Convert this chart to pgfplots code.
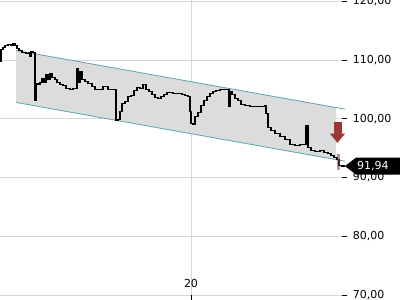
\documentclass[border=0pt]{standalone}
\usepackage{pgfplots}
\pgfplotsset{compat=1.18}
\usepackage{fontspec}
\setmainfont{DejaVu Sans}
\definecolor{chan}{RGB}{95,163,173}
\definecolor{chanfill}{RGB}{220,220,220}
\definecolor{arrowred}{RGB}{155,55,52}
\definecolor{gridc}{RGB}{215,215,215}
\begin{document}
\fontsize{11}{13}\selectfont
\begin{tikzpicture}[x=1pt,y=1pt]
\begin{axis}[
 at={(0pt,5pt)}, anchor=south west,
 scale only axis, width=342pt, height=295pt,
 xmin=0, xmax=342, ymin=70, ymax=120.21,
 axis line style={draw=none},
 clip=false,
 ytick={70,80,...,120},
 yticklabels={{70,00},{80,00},{90,00},{100,00},{110,00},{120,00}},
 xtick={191}, xticklabels={20},
 ytick pos=right, yticklabel pos=right,
 xtick pos=bottom,
 grid=major, grid style={gridc, line width=0.6pt},
 tick align=outside, major tick length=5pt,
 tick style={black, line width=0.6pt},
 yticklabel style={anchor=west, xshift=2pt, font=\fontsize{11}{13}\selectfont},
 xticklabel style={anchor=south, yshift=8pt, font=\fontsize{11}{13}\selectfont},
]
% channel fill
\addplot[fill=chanfill, draw=none] coordinates {(16,111.63) (336,101.90) (336,93.04) (16,102.77)} -- cycle;
% channel lines
\addplot[chan, line width=0.8pt] coordinates {(16,111.63) (345,101.63)};
\addplot[chan, line width=0.8pt] coordinates {(16,102.77) (345,92.77)};
% price
\addplot[black, line width=1.2pt, const plot] coordinates {
(0,109.70) (1,111.74) (3,112.09) (5,112.43) (8,112.60) (11,112.43) (13,112.77) (15,112.43)
(17,111.91) (19,111.57) (22,111.23) (26,111.06) (29,111.23) (30,110.55) (31,111.40) (33,111.23)
(35,103.06) (36,105.96) (38,105.79) (40,106.13) (42,106.81) (44,106.13) (46,107.49) (48,106.64)
(50,107.66) (52,106.98) (55,106.64) (57,106.13) (60,105.79) (63,105.62) (66,105.11) (70,104.94)
(73,105.11) (75,105.11) (77,108.51) (78,106.13) (80,108.00) (82,106.64) (85,106.30) (88,105.96)
(92,105.45) (95,104.94) (100,104.94) (103,105.45) (106,105.45) (108,104.94) (114,104.94)
(116,99.66) (118,99.83) (120,101.19) (122,102.55) (125,102.89) (128,103.74) (131,103.91)
(134,104.77) (137,105.28) (140,105.11) (143,105.79) (146,104.94) (149,104.60) (152,104.09)
(155,103.57) (158,103.40) (161,103.74) (164,104.09) (167,104.43) (170,104.43) (173,104.26)
(176,104.26) (179,104.26) (182,104.09) (185,103.91) (188,103.74)
(190,101.19) (191,99.15) (193,98.98) (195,100.34) (198,101.02) (201,102.21) (204,103.06)
(207,103.74) (210,104.26) (213,104.60) (216,104.77) (220,104.94) (224,104.94) (227,104.94)
(229,102.04) (230,104.60) (232,104.09) (235,103.40) (238,103.06) (241,102.38) (245,102.21)
(250,102.04) (255,102.04) (260,102.04) (265,102.21)
(266,100.85) (268,98.47) (271,97.96) (275,97.45) (280,96.94) (285,96.43) (290,95.57)
(295,95.40) (300,95.57) (304,95.57) (306,98.81) (308,95.06) (311,94.55) (315,94.38)
(320,94.55) (324,94.21) (328,94.04) (331,93.70) (334,93.36) (337,93.02) (339,92.00)
(342,91.94) (345,91.94)
};
% highlighted last candle
\fill[arrowred, opacity=0.55] (axis cs:336.5,94.04) rectangle (axis cs:339.5,91.32);
% down arrow
\fill[arrowred] (axis cs:333.5,99.49) rectangle (axis cs:341.5,97.45);
\fill[arrowred] (axis cs:330,97.45) -- (axis cs:345,97.45) -- (axis cs:337.5,95.91) -- cycle;
% last price label
\fill[black] (axis cs:345,91.94) -- ++(11pt,8.5pt) -- ++(60pt,0pt) -- ++(0pt,-17pt) -- ++(-60pt,0pt) -- cycle;
\node[white, anchor=west, font=\fontsize{11}{13}\selectfont, inner sep=0pt] at ([xshift=12pt]axis cs:345,91.94) {91,94};
\end{axis}
\pgfresetboundingbox
\useasboundingbox (0,0) rectangle (400,300);
\end{tikzpicture}
\end{document}
